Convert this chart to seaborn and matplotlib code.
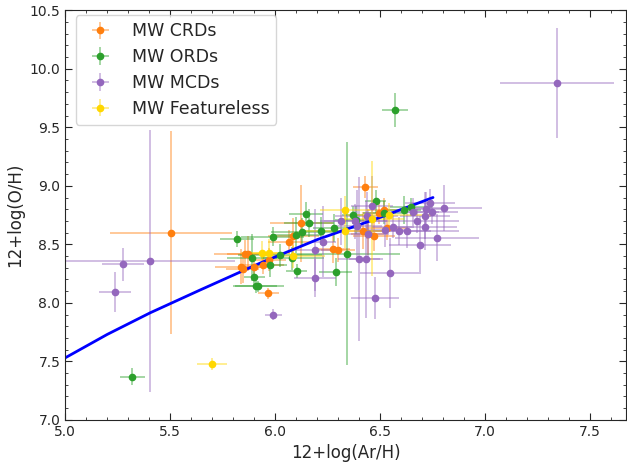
import matplotlib
matplotlib.use("Agg")
import matplotlib.pyplot as plt
from matplotlib.colors import to_rgba
from matplotlib.ticker import MultipleLocator
import seaborn as sns

# MW CRDs
crd_x = [5.505, 5.835, 5.845, 5.857, 5.872, 5.90, 5.944, 5.97, 5.968, 6.068, 6.087,
         6.124, 6.275, 6.30, 6.43, 6.417, 6.44, 6.471, 6.495, 6.517, 6.532]
crd_y = [8.60, 8.31, 8.29, 8.42, 8.42, 8.31, 8.325, 8.37, 8.08, 8.52, 8.575,
         8.68, 8.459, 8.45, 8.99, 8.61, 8.59, 8.567, 8.77, 8.795, 8.64]
crd_xerr = [0.29, 0.12, 0.08, 0.15, 0.10, 0.06, 0.10, 0.08, 0.05, 0.10, 0.12,
            0.15, 0.08, 0.08, 0.06, 0.10, 0.08, 0.10, 0.08, 0.08, 0.10]
crd_yerr = [0.87, 0.15, 0.12, 0.12, 0.15, 0.10, 0.08, 0.10, 0.05, 0.10, 0.15,
            0.33, 0.12, 0.10, 0.09, 0.15, 0.18, 0.12, 0.10, 0.10, 0.10]

# MW ORDs
ord_x = [5.319, 5.817, 5.89, 5.90, 5.91, 5.92, 5.975, 5.989, 6.024, 6.082, 6.103,
         6.098, 6.13, 6.148, 6.16, 6.217, 6.282, 6.288, 6.343, 6.37, 6.386, 6.48,
         6.519, 6.571, 6.614, 6.646]
ord_y = [7.37, 8.545, 8.387, 8.225, 8.14, 8.14, 8.32, 8.565, 8.405, 8.38, 8.27,
         8.58, 8.604, 8.76, 8.686, 8.61, 8.64, 8.262, 8.42, 8.75, 8.71, 8.866,
         8.77, 9.65, 8.795, 8.818]
ord_xerr = [0.06, 0.08, 0.12, 0.05, 0.10, 0.12, 0.08, 0.15, 0.20, 0.15, 0.05,
            0.12, 0.15, 0.08, 0.12, 0.10, 0.10, 0.08, 0.25, 0.05, 0.10, 0.05,
            0.10, 0.06, 0.08, 0.10]
ord_yerr = [0.07, 0.07, 0.20, 0.07, 0.06, 0.05, 0.10, 0.08, 0.10, 0.10, 0.06,
            0.15, 0.12, 0.10, 0.12, 0.12, 0.12, 0.12, 0.95, 0.08, 0.12, 0.10,
            0.10, 0.145, 0.12, 0.08]

# MW MCDs
mcd_x = [5.238, 5.276, 5.405, 5.992, 6.19, 6.189, 6.229, 6.316, 6.381, 6.389, 6.40,
         6.433, 6.436, 6.462, 6.44, 6.476, 6.524, 6.545, 6.56, 6.59, 6.627, 6.659,
         6.678, 6.69, 6.718, 6.714, 6.716, 6.738, 6.749, 6.773, 6.803, 7.343]
mcd_y = [8.09, 8.33, 8.36, 7.90, 8.214, 8.453, 8.524, 8.695, 8.695, 8.66, 8.373,
         8.373, 8.744, 8.83, 8.59, 8.045, 8.624, 8.255, 8.65, 8.61, 8.618, 8.78,
         8.698, 8.495, 8.80, 8.744, 8.65, 8.855, 8.775, 8.558, 8.81, 9.88]
mcd_xerr = [0.077, 0.10, 0.405, 0.04, 0.10, 0.10, 0.06, 0.10, 0.15, 0.12, 0.10,
            0.08, 0.15, 0.10, 0.10, 0.115, 0.10, 0.14, 0.10, 0.15, 0.25, 0.12,
            0.20, 0.15, 0.10, 0.12, 0.15, 0.12, 0.12, 0.20, 0.18, 0.27]
mcd_yerr = [0.17, 0.14, 1.12, 0.05, 0.16, 0.35, 0.30, 0.20, 0.15, 0.30, 0.70,
            0.50, 0.20, 0.25, 0.20, 0.18, 0.15, 0.30, 0.10, 0.12, 0.15, 0.12,
            0.10, 0.25, 0.15, 0.20, 0.20, 0.12, 0.10, 0.20, 0.20, 0.47]

# MW Featureless
fl_x = [5.70, 5.938, 5.971, 6.087, 6.332, 6.332, 6.462, 6.541]
fl_y = [7.48, 8.425, 8.425, 8.396, 8.79, 8.615, 8.72, 8.75]
fl_xerr = [0.07, 0.10, 0.10, 0.15, 0.12, 0.20, 0.15, 0.20]
fl_yerr = [0.05, 0.10, 0.12, 0.10, 0.12, 0.15, 0.49, 0.10]

# model curve
model_x = [5.0, 5.2, 5.405, 5.643, 5.929, 6.2, 6.5, 6.752]
model_y = [7.53, 7.73, 7.915, 8.11, 8.34, 8.54, 8.73, 8.90]

sns.set_style("ticks", {"xtick.direction": "in", "ytick.direction": "in"})

fig, ax = plt.subplots(figsize=(6.27, 4.66), dpi=100)
fig.subplots_adjust(left=0.104, right=0.998, bottom=0.099, top=0.978)

groups = [
    ("MW CRDs", crd_x, crd_y, crd_xerr, crd_yerr, "tab:orange"),
    ("MW ORDs", ord_x, ord_y, ord_xerr, ord_yerr, "tab:green"),
    ("MW MCDs", mcd_x, mcd_y, mcd_xerr, mcd_yerr, "tab:purple"),
    ("MW Featureless", fl_x, fl_y, fl_xerr, fl_yerr, "gold"),
]
for label, x, y, xe, ye, col in groups:
    ax.errorbar(x, y, xerr=xe, yerr=ye, fmt="o", ms=4.5, color=col,
                ecolor=to_rgba(col, 0.5), elinewidth=1.2, label=label)

sns.lineplot(x=model_x, y=model_y, color="blue", lw=2, ax=ax, sort=False)

ax.set_xlim(5.0, 7.67)
ax.set_ylim(7.0, 10.5)
ax.xaxis.set_major_locator(MultipleLocator(0.5))
ax.yaxis.set_major_locator(MultipleLocator(0.5))
ax.xaxis.set_minor_locator(MultipleLocator(0.1))
ax.yaxis.set_minor_locator(MultipleLocator(0.1))
ax.tick_params(which="both", top=True, right=True, direction="in", labelsize=10)
ax.tick_params(which="major", length=5)
ax.tick_params(which="minor", length=2.5)
ax.set_xlabel("12+log(Ar/H)", fontsize=12)
ax.set_ylabel("12+log(O/H)", fontsize=12)

ax.legend(loc="upper left", fontsize=12.5, frameon=True, labelspacing=0.45,
          borderaxespad=0.3, bbox_to_anchor=(0.01, 1.0))

fig.savefig("out.png", dpi=100)
